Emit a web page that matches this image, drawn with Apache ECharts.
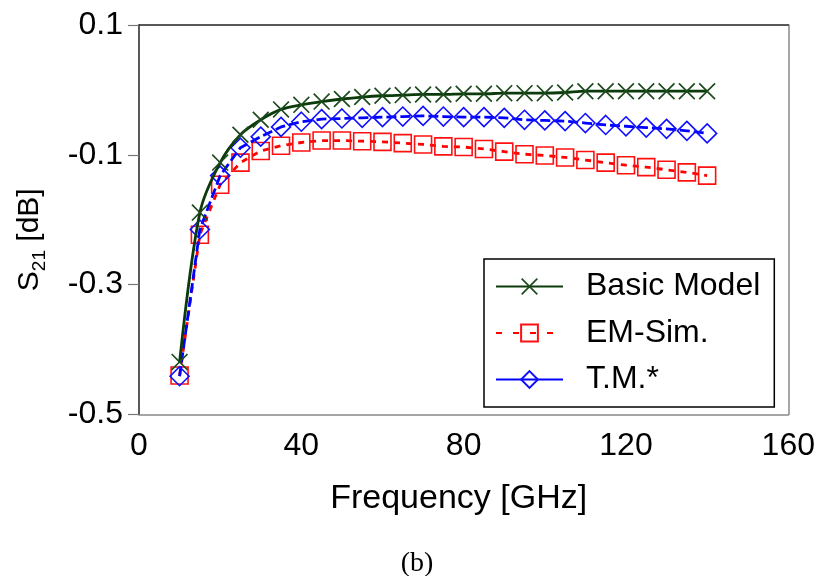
<!DOCTYPE html>
<html>
<head>
<meta charset="utf-8">
<script src="https://cdn.jsdelivr.net/npm/echarts@6/dist/echarts.min.js"></script>
<style>
html,body{margin:0;padding:0;background:#fff;}
#chart{width:818px;height:576px;}
</style>
</head>
<body>
<div id="chart"></div>
<script>
// ---- data ----
const freq = [10,15,20,25,30,35,40,45,50,55,60,65,70,75,80,85,90,95,100,105,110,115,120,125,130,135,140];
const basicModel = [-0.419,-0.189,-0.112,-0.069,-0.046,-0.030,-0.023,-0.018,-0.014,-0.011,-0.009,-0.008,-0.007,-0.007,-0.006,-0.006,-0.005,-0.005,-0.005,-0.004,-0.002,-0.002,-0.002,-0.002,-0.002,-0.002,-0.002];
const emSim = [-0.440,-0.223,-0.146,-0.112,-0.094,-0.086,-0.081,-0.078,-0.078,-0.079,-0.080,-0.082,-0.084,-0.087,-0.088,-0.091,-0.095,-0.099,-0.101,-0.104,-0.108,-0.112,-0.116,-0.119,-0.123,-0.127,-0.132];
const tmStar = [-0.441,-0.215,-0.132,-0.089,-0.072,-0.057,-0.049,-0.045,-0.044,-0.043,-0.042,-0.041,-0.040,-0.041,-0.042,-0.042,-0.043,-0.046,-0.047,-0.048,-0.051,-0.054,-0.056,-0.058,-0.060,-0.063,-0.067];
const seriesNames = ['Basic Model','EM-Sim.','T.M.*'];
const xTicks = [0,40,80,120,160];
const yTicks = [-0.5,-0.3,-0.1,0.1];
const xTitle = 'Frequency [GHz]';
const caption = '(b)';

const pairs = (ys) => freq.map((f, i) => [f, ys[i]]);
const FONT = '"Liberation Sans", Arial, sans-serif';
const X_PATH = 'path://M0,0.7L0.7,0L5,4.3L9.3,0L10,0.7L5.7,5L10,9.3L9.3,10L5,5.7L0.7,10L0,9.3L4.3,5Z';

const chart = echarts.init(document.getElementById('chart'), null, {renderer:'canvas'});
chart.setOption({
  animation: false,
  backgroundColor: '#fff',
  grid: {left: 139, top: 25, right: 29, bottom: 161.5, containLabel: false},
  xAxis: [{
    type: 'value', min: xTicks[0], max: xTicks[xTicks.length-1], interval: 40,
    axisLine: {show: true, onZero: false, lineStyle: {color: '#888', width: 1.5}},
    axisTick: {show: false},
    splitLine: {show: false},
    axisLabel: {fontFamily: FONT, fontSize: 32, color: '#000', margin: 16,
      customValues: xTicks},
    name: xTitle, nameLocation: 'middle', nameGap: 67,
    nameTextStyle: {fontFamily: FONT, fontSize: 34, color: '#000', padding: [0, 10, 0, 0]}
  }, {
    type: 'value', position: 'top', min: 0, max: 160,
    axisLine: {show: true, onZero: false, lineStyle: {color: '#222', width: 1.5}},
    axisTick: {show: false}, axisLabel: {show: false}, splitLine: {show: false}
  }],
  yAxis: [{
    type: 'value', min: yTicks[0], max: yTicks[yTicks.length-1],
    axisLine: {show: true, onZero: false, lineStyle: {color: '#222', width: 1.5}},
    axisTick: {show: true, inside: false, length: 11, lineStyle: {color: '#777', width: 1.2},
      customValues: yTicks},
    splitLine: {show: false},
    axisLabel: {fontFamily: FONT, fontSize: 32, color: '#000', margin: 16,
      customValues: yTicks,
      formatter: (v) => (Math.round(v*10)/10).toFixed(1)},
    name: '{s|S}{sub|21}{s| [dB]}', nameLocation: 'middle', nameRotate: 90, nameGap: 90,
    nameTextStyle: {
      fontFamily: FONT, color: '#000', padding: [0, 40, 0, 0],
      rich: {
        s: {fontFamily: FONT, fontSize: 30, color: '#000', lineHeight: 38},
        sub: {fontFamily: FONT, fontSize: 19, color: '#000', lineHeight: 19, verticalAlign: 'bottom'}
      }
    }
  }, {
    type: 'value', position: 'right', min: yTicks[0], max: yTicks[yTicks.length-1],
    axisLine: {show: true, onZero: false, lineStyle: {color: '#888', width: 1.5}},
    axisTick: {show: false}, axisLabel: {show: false}, splitLine: {show: false}
  }],
  legend: {
    orient: 'vertical', left: 484, top: 259,
    padding: [11.5, 14, 11.5, 11],
    itemWidth: 67, itemHeight: 21, itemGap: 14.5,
    borderColor: '#000', borderWidth: 1.5, backgroundColor: '#fff',
    textStyle: {fontFamily: FONT, fontSize: 32, color: '#000', padding: [0,0,0,18]},
    lineStyle: {width: 2},
    data: [
      {name: seriesNames[0]},
      {name: seriesNames[1], lineStyle: {type: [6, 11], dashOffset: 0}},
      {name: seriesNames[2], lineStyle: {type: 'solid'}}
    ]
  },
  series: [
    {
      name: seriesNames[1], type: 'line', data: pairs(emSim),
      symbol: 'rect', symbolSize: 17,
      itemStyle: {color: 'rgba(255,255,255,0)', borderColor: '#ff1010', borderWidth: 1.6},
      lineStyle: {color: '#ff0000', width: 2.8, type: [6, 6]},
      z: 2
    },
    {
      name: seriesNames[2], type: 'line', data: pairs(tmStar),
      symbol: 'diamond', symbolSize: 19,
      itemStyle: {color: 'rgba(255,255,255,0)', borderColor: '#1010ff', borderWidth: 1.6},
      lineStyle: {color: '#0000ff', width: 2.8, type: [10, 4]},
      z: 3
    },
    {
      name: seriesNames[0], type: 'line', data: pairs(basicModel),
      symbol: X_PATH, symbolSize: 17,
      itemStyle: {color: '#1d4a1d'},
      lineStyle: {color: '#0b3a0b', width: 2.8, type: 'solid'},
      smooth: 0.3,
      z: 4
    }
  ],
  graphic: [{
    type: 'text', x: 417, y: 564,
    style: {text: caption, font: '28px "Liberation Serif", "Times New Roman", serif', fill: '#000',
      align: 'center', verticalAlign: 'middle'}
  }]
});
</script>
</body>
</html>
